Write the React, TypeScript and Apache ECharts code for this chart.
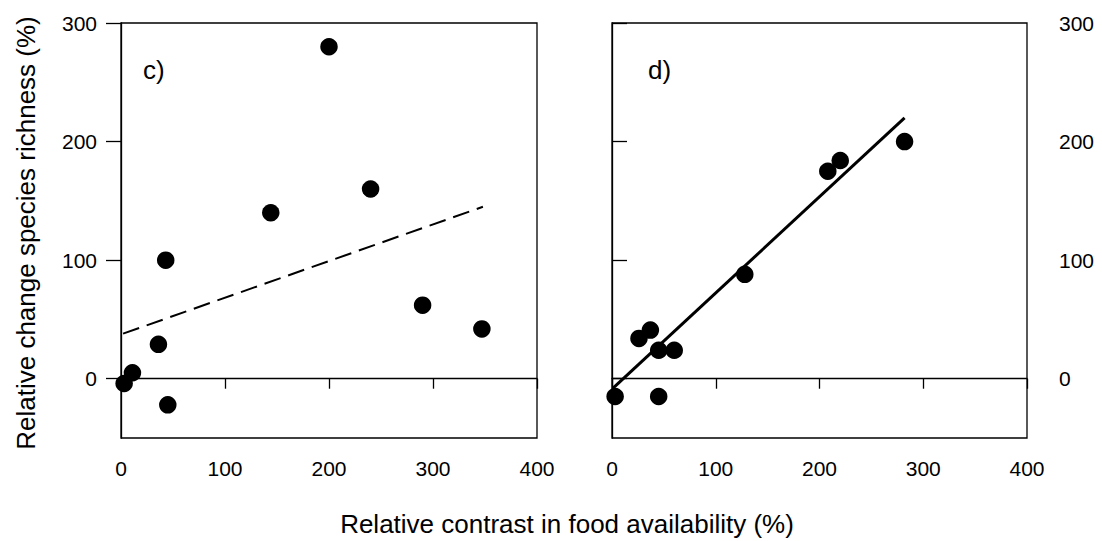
import React, { useEffect, useRef } from "react";
import * as echarts from "echarts";

const xTicks = [0, 100, 200, 300, 400];
const yTicks = [0, 100, 200, 300];

const panelC_x = [3, 11, 45, 36, 43, 144, 200, 240, 290, 347];
const panelC_y = [-4, 5, -22, 29, 100, 140, 280, 160, 62, 42];
const panelC_fitX = [2, 348];
const panelC_fitY = [38, 145];

const panelD_x = [3, 26, 37, 45, 60, 45, 128, 208, 220, 282];
const panelD_y = [-15, 34, 41, 24, 24, -15, 88, 175, 184, 200];
const panelD_fitX = [1, 282];
const panelD_fitY = [-8, 220];

const FONT = "Liberation Sans, Arial, sans-serif";

export default function App() {
  const ref = useRef<HTMLDivElement>(null);
  useEffect(() => {
    if (!ref.current) return;
    const chart = echarts.init(ref.current, null, { renderer: "svg" });
    const pair = (xs: number[], ys: number[]) => xs.map((x, i) => [x, ys[i]]);
    const xAxisBase = (gi: number) => ({
      type: "value",
      gridIndex: gi,
      min: xTicks[0],
      max: xTicks[xTicks.length - 1],
      interval: 100,
      axisLine: { show: true, lineStyle: { color: "#000", width: 1.3 } },
      axisTick: { show: true, length: 10, lineStyle: { color: "#000", width: 1.3 } },
      axisLabel: { color: "#000", fontSize: 21, fontFamily: FONT, margin: 20 },
      splitLine: { show: false },
    });
    const yAxisBase = (gi: number, pos: string) => ({
      type: "value",
      gridIndex: gi,
      position: pos,
      min: -50,
      max: 300,
      axisLine: { show: true, lineStyle: { color: "#000", width: 1.3 } },
      axisTick: { show: true, length: 15, customValues: yTicks, lineStyle: { color: "#000", width: 1.3 } },
      axisLabel: {
        color: "#000",
        fontSize: 21,
        fontFamily: FONT,
        margin: pos === "left" ? 24 : 32,
        customValues: yTicks,
      },
      splitLine: { show: false },
    });
    chart.setOption({
      animation: false,
      textStyle: { fontFamily: FONT, color: "#000" },
      grid: [
        { left: 121, top: 23, width: 416, height: 415, show: true, borderColor: "#000", borderWidth: 1.3 },
        { left: 612, top: 23, width: 415, height: 415, show: true, borderColor: "#000", borderWidth: 1.3 },
      ],
      xAxis: [xAxisBase(0), xAxisBase(1)],
      yAxis: [yAxisBase(0, "left"), yAxisBase(1, "right")],
      series: [
        {
          type: "line",
          xAxisIndex: 0,
          yAxisIndex: 0,
          data: pair(panelC_fitX, panelC_fitY),
          symbol: "none",
          lineStyle: { color: "#000", width: 2, type: [17, 8] },
        },
        {
          type: "scatter",
          xAxisIndex: 0,
          yAxisIndex: 0,
          data: pair(panelC_x, panelC_y),
          symbolSize: 17.5,
          itemStyle: { color: "#000", opacity: 1 },
        },
        {
          type: "line",
          xAxisIndex: 1,
          yAxisIndex: 1,
          data: pair(panelD_fitX, panelD_fitY),
          symbol: "none",
          lineStyle: { color: "#000", width: 3 },
        },
        {
          type: "scatter",
          xAxisIndex: 1,
          yAxisIndex: 1,
          data: pair(panelD_x, panelD_y),
          symbolSize: 17.5,
          itemStyle: { color: "#000", opacity: 1 },
        },
      ],
      graphic: [
        {
          type: "text",
          x: 26,
          y: 233,
          rotation: Math.PI / 2,
          style: {
            text: "Relative change species richness (%)",
            fontSize: 26,
            fontFamily: FONT,
            fill: "#000",
            align: "center",
            verticalAlign: "middle",
          },
        },
        {
          type: "text",
          x: 567,
          y: 524,
          style: {
            text: "Relative contrast in food availability (%)",
            fontSize: 26,
            fontFamily: FONT,
            fill: "#000",
            align: "center",
            verticalAlign: "middle",
          },
        },
        {
          type: "text",
          x: 143,
          y: 70,
          style: { text: "c)", fontSize: 26, fontFamily: FONT, fill: "#000", verticalAlign: "middle" },
        },
        {
          type: "text",
          x: 648,
          y: 70,
          style: { text: "d)", fontSize: 26, fontFamily: FONT, fill: "#000", verticalAlign: "middle" },
        },
      ],
    });
    return () => chart.dispose();
  }, []);
  return <div ref={ref} style={{ width: 1102, height: 541, position: "absolute", left: 0, top: 0, background: "#fff" }} />;
}
